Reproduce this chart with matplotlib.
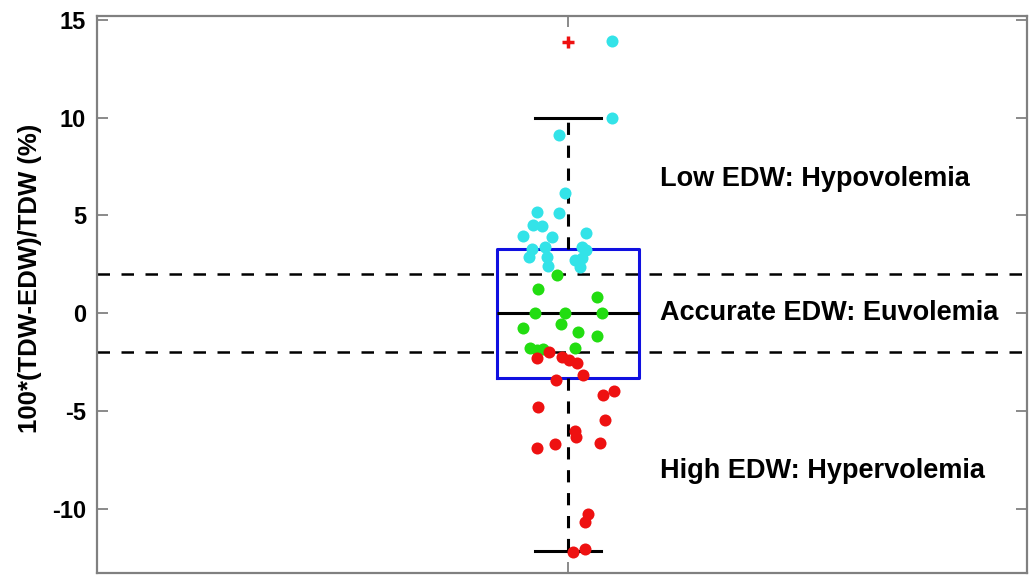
import matplotlib.pyplot as plt

plt.rcParams['font.family'] = ['Liberation Sans', 'DejaVu Sans']
plt.rcParams['axes.unicode_minus'] = False

# jitter (offset from box centre) and values
cyan_dx = [0.047, 0.047, -0.010, -0.003, -0.033, -0.010, -0.037, -0.028, -0.017, -0.048, 0.019,
           -0.038, -0.024, 0.015, 0.019, -0.041, -0.022, 0.007, 0.015, -0.021, 0.013]
cyan_y = [13.95, 10.0, 9.13, 6.15, 5.18, 5.13, 4.51, 4.46, 3.90, 3.95, 4.10,
          3.28, 3.38, 3.38, 3.23, 2.87, 2.87, 2.72, 2.82, 2.41, 2.36]

green_dx = [-0.012, -0.032, 0.031, -0.035, -0.003, 0.036, -0.048, -0.008, 0.011, 0.031,
            -0.040, -0.033, -0.027, 0.007]
green_y = [1.95, 1.23, 0.82, 0.0, 0.0, 0.0, -0.77, -0.56, -0.97, -1.18,
           -1.79, -1.90, -1.85, -1.79]

red_dx = [-0.033, -0.020, -0.006, 0.001, 0.010, 0.016, -0.013, 0.037, 0.049, -0.032,
          0.039, 0.007, 0.008, -0.014, -0.033, 0.034, 0.021, 0.018, 0.005, 0.018]
red_y = [-2.31, -2.0, -2.26, -2.41, -2.56, -3.18, -3.44, -4.21, -4.0, -4.82,
         -5.49, -6.05, -6.36, -6.67, -6.92, -6.62, -10.26, -10.67, -12.21, -12.05]

# box statistics
box_med = 0.0
box_q1 = -3.3
box_q3 = 3.3
whisker_lo = -12.15
whisker_hi = 10.0
outliers = [13.9]

limits = [-2, 2]
labels = ['Low EDW: Hypovolemia', 'Accurate EDW: Euvolemia', 'High EDW: Hypervolemia']
label_y = [6.85, 0.0, -8.05]

pos = 1.0

fig = plt.figure(figsize=(10.32, 5.76), dpi=100)
ax = fig.add_axes([0.094, 0.005, 0.901, 0.967])

for lim in limits:
    ax.axhline(lim, color='black', lw=1.8, ls=(0, (5, 4.6)), zorder=2)

stats = [dict(med=box_med, q1=box_q1, q3=box_q3, whislo=whisker_lo, whishi=whisker_hi,
              fliers=outliers)]
ax.bxp(stats, positions=[pos], widths=0.15, capwidths=0.07, showfliers=True,
       boxprops=dict(color='#1010e0', lw=2.2),
       medianprops=dict(color='black', lw=2.2),
       whiskerprops=dict(color='black', lw=2.2, ls=(0, (4, 3.5))),
       capprops=dict(color='black', lw=2.2),
       flierprops=dict(marker='+', markeredgecolor='#ee1111', markersize=8, mew=2.5),
       zorder=3)

ax.scatter([pos + d for d in cyan_dx], cyan_y, s=75, color='#33e3e8', zorder=4, lw=0)
ax.scatter([pos + d for d in green_dx], green_y, s=75, color='#22dd11', zorder=4, lw=0)
ax.scatter([pos + d for d in red_dx], red_y, s=75, color='#ee1111', zorder=4, lw=0)

for txt, yy in zip(labels, label_y):
    ax.text(pos + 0.098, yy, txt, fontsize=19.5, fontweight='bold', ha='left', va='center')

ax.set_xlim(0.5, 1.487)
ax.set_ylim(-13.3, 15.2)
ax.set_xticks([pos])
ax.set_xticklabels([''])
ax.set_yticks([-10, -5, 0, 5, 10, 15])
ax.tick_params(axis='both', direction='in', length=8, width=1.2, color='#777777',
               right=True, top=True, labelsize=17, pad=8)
for lbl in ax.get_yticklabels():
    lbl.set_fontweight('bold')
for sp in ax.spines.values():
    sp.set_color('#808080')
    sp.set_linewidth(1.6)

fig.text(30 / 1032, 1 - 278 / 576, '100*(TDW-EDW)/TDW (%)', rotation=90, fontsize=18.5,
         fontweight='bold', ha='center', va='center')

fig.savefig('out.png', dpi=100)
